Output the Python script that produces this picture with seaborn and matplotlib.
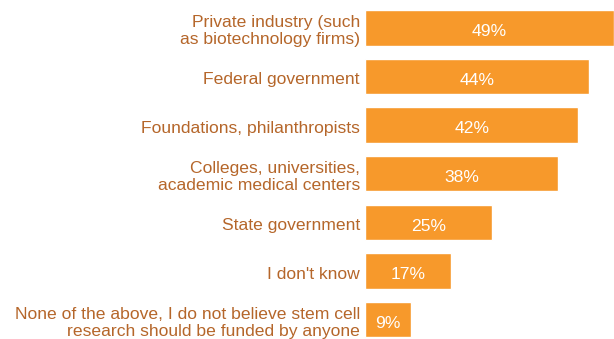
import matplotlib
matplotlib.use("Agg")
import matplotlib.pyplot as plt
import seaborn as sns
import pandas as pd

sources = [
    "Private industry (such\nas biotechnology firms)",
    "Federal government",
    "Foundations, philanthropists",
    "Colleges, universities,\nacademic medical centers",
    "State government",
    "I don't know",
    "None of the above, I do not believe stem cell\nresearch should be funded by anyone",
]
shares = [49, 44, 42, 38, 25, 17, 9]

BAR_COLOR = "#F7992B"
TEXT_COLOR = "#B5662A"

sns.set_theme(style="white")
plt.rcParams["font.family"] = ["Liberation Sans", "DejaVu Sans"]

df = pd.DataFrame({"source": sources, "share": shares})

fig = plt.figure(figsize=(6.14, 3.39), dpi=100)
ax = fig.add_axes([365 / 614, 0, 249 / 614, 1])

sns.barplot(data=df, x="share", y="source", orient="h", color=BAR_COLOR,
            saturation=1, width=0.73, ax=ax)

ax.set_xlim(0, 49)
ax.set_ylim(6.396, -0.570)
ax.set_xlabel("")
ax.set_ylabel("")
ax.set_xticks([])
ax.set_yticks([])
for s in ax.spines.values():
    s.set_visible(False)

for i, (label, val) in enumerate(zip(sources, shares)):
    ax.text(-1.0, i + 0.07, label, ha="right", va="center", color=TEXT_COLOR,
            fontsize=12.6, linespacing=1.22, clip_on=False)
    ax.text(val / 2, i + 0.08, f"{val}%", ha="center", va="center",
            color="white", fontsize=12.6)

fig.savefig("out.png", dpi=100)
